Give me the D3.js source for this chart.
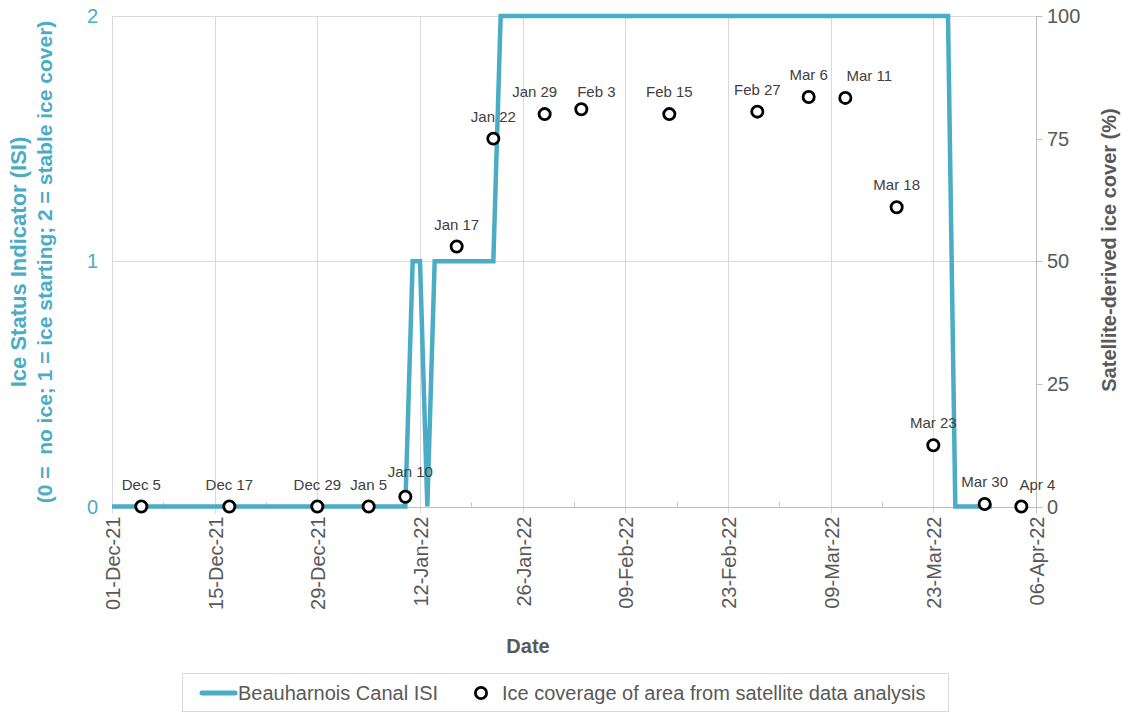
<!DOCTYPE html>
<html>
<head>
<meta charset="utf-8">
<script src="https://cdn.jsdelivr.net/npm/d3@7"></script>
<style>
  html, body { margin: 0; padding: 0; background: #ffffff; }
  svg { display: block; font-family: "Liberation Sans", Arial, sans-serif; }
</style>
</head>
<body>
<svg id="chart" width="1122" height="713"></svg>
<script>
// Beauharnois Canal ice status indicator (vertices of the daily series)
const isiDates  = ["2021-12-01", "2022-01-10", "2022-01-11", "2022-01-12", "2022-01-13",
                   "2022-01-14", "2022-01-22", "2022-01-23", "2022-03-25", "2022-03-26", "2022-03-31"];
const isiValues = [0, 0, 1, 1, 0, 1, 1, 2, 2, 0, 0];

// Satellite-derived ice cover (%) of the area
const satDates  = ["2021-12-05", "2021-12-17", "2021-12-29", "2022-01-05", "2022-01-10",
                   "2022-01-17", "2022-01-22", "2022-01-29", "2022-02-03", "2022-02-15",
                   "2022-02-27", "2022-03-06", "2022-03-11", "2022-03-18", "2022-03-23",
                   "2022-03-30", "2022-04-04"];
const satValues = [0, 0, 0, 0, 2, 53, 75, 80, 81, 80, 80.5, 83.5, 83.3, 61, 12.5, 0.5, 0];
const satLabels = ["Dec 5", "Dec 17", "Dec 29", "Jan 5", "Jan 10", "Jan 17", "Jan 22", "Jan 29",
                   "Feb 3", "Feb 15", "Feb 27", "Mar 6", "Mar 11", "Mar 18", "Mar 23", "Mar 30", "Apr 4"];

// Axis ticks
const isiTicks = [0, 1, 2];
const pctTicks = [0, 25, 50, 75, 100];
const xDomain  = ["2021-12-01", "2022-04-06"];

// Legend entries
const seriesNames = ["Beauharnois Canal ISI", "Ice coverage of area from satellite data analysis"];

// ---------------------------------------------------------------
const BLUE = "#4BACC6", GRID = "#d9d9d9", AXIS = "#bfbfbf", TXT = "#595959", LBL = "#404040";
const parse = d3.utcParse("%Y-%m-%d");
const svg = d3.select("#chart");

const plot = { left: 112, right: 1036, top: 16, bottom: 506.5 };

const x = d3.scaleUtc().domain(xDomain.map(parse)).range([plot.left, plot.right]);
const yIsi = d3.scaleLinear().domain([0, 2]).range([plot.bottom, plot.top]);
const yPct = d3.scaleLinear().domain([0, 100]).range([plot.bottom, plot.top]);

const dayEnd = d3.utcDay.offset(parse(xDomain[1]), 1);
const majorTicks = d3.utcDay.range(parse(xDomain[0]), dayEnd, 14);
const minorTicks = d3.utcDay.range(parse(xDomain[0]), dayEnd, 7)
  .filter(d => !majorTicks.some(m => +m === +d));

// Vertical gridlines (major date ticks, extending below the axis as tick marks)
svg.append("g").selectAll("line").data(majorTicks).join("line")
  .attr("x1", d => Math.round(x(d)) + 0.5).attr("x2", d => Math.round(x(d)) + 0.5)
  .attr("y1", plot.top).attr("y2", plot.bottom + 7)
  .attr("stroke", GRID).attr("stroke-width", 1);

// Horizontal gridlines on ISI ticks
svg.append("g").selectAll("line").data(isiTicks.filter(v => v > 0)).join("line")
  .attr("x1", plot.left).attr("x2", plot.right)
  .attr("y1", d => Math.round(yIsi(d)) + 0.5).attr("y2", d => Math.round(yIsi(d)) + 0.5)
  .attr("stroke", GRID).attr("stroke-width", 1);

// Minor date ticks (inside)
svg.append("g").selectAll("line").data(minorTicks).join("line")
  .attr("x1", d => Math.round(x(d)) + 0.5).attr("x2", d => Math.round(x(d)) + 0.5)
  .attr("y1", plot.bottom - 4).attr("y2", plot.bottom)
  .attr("stroke", AXIS).attr("stroke-width", 1);

// X axis line
svg.append("line")
  .attr("x1", plot.left).attr("x2", plot.right + 1)
  .attr("y1", Math.round(plot.bottom) + 0.5).attr("y2", Math.round(plot.bottom) + 0.5)
  .attr("stroke", AXIS).attr("stroke-width", 1);

// Right axis line + outward ticks
const rx = Math.round(plot.right) + 0.5;
svg.append("line").attr("x1", rx).attr("x2", rx).attr("y1", plot.top).attr("y2", plot.bottom + 7)
  .attr("stroke", AXIS).attr("stroke-width", 1);
svg.append("g").selectAll("line").data(pctTicks).join("line")
  .attr("x1", rx).attr("x2", rx + 6)
  .attr("y1", d => Math.round(yPct(d)) + 0.5).attr("y2", d => Math.round(yPct(d)) + 0.5)
  .attr("stroke", AXIS).attr("stroke-width", 1);

// X tick labels (rotated)
const fmt = d3.utcFormat("%d-%b-%y");
svg.append("g").selectAll("text").data(majorTicks).join("text")
  .attr("transform", d => `translate(${x(d) + 1},${plot.bottom + 10}) rotate(-90)`)
  .attr("text-anchor", "end").attr("dy", "0.35em")
  .attr("font-size", 20).attr("fill", TXT)
  .text(d => fmt(d));

// Left tick labels (ISI)
svg.append("g").selectAll("text").data(isiTicks).join("text")
  .attr("x", 98).attr("y", d => yIsi(d)).attr("dy", "0.35em")
  .attr("text-anchor", "end").attr("font-size", 20).attr("fill", BLUE)
  .text(d => d);

// Right tick labels (%)
svg.append("g").selectAll("text").data(pctTicks).join("text")
  .attr("x", 1047).attr("y", d => yPct(d)).attr("dy", "0.35em")
  .attr("text-anchor", "start").attr("font-size", 20).attr("fill", TXT)
  .text(d => d);

// ISI line
const isiData = isiDates.map((d, i) => ({ date: parse(d), v: isiValues[i] }));
svg.append("path").datum(isiData)
  .attr("fill", "none").attr("stroke", BLUE).attr("stroke-width", 4.5)
  .attr("stroke-linejoin", "miter").attr("stroke-linecap", "butt")
  .attr("d", d3.line().x(d => x(d.date)).y(d => yIsi(d.v)));

// Satellite markers
const satData = satDates.map((d, i) => ({ date: parse(d), v: satValues[i], label: satLabels[i] }));
svg.append("g").selectAll("circle").data(satData).join("circle")
  .attr("cx", d => x(d.date)).attr("cy", d => yPct(d.v)).attr("r", 5.6)
  .attr("fill", "#ffffff").attr("stroke", "#000000").attr("stroke-width", 2.8);

// Marker labels; a few are nudged to avoid overlaps
const labelShift = { "Jan 10": [5, -3], "Jan 29": [-10, 0], "Feb 3": [15, 5], "Mar 11": [24, 0], "Apr 4": [16, 0] };
svg.append("g").selectAll("text").data(satData).join("text")
  .attr("x", d => x(d.date) + (labelShift[d.label] ? labelShift[d.label][0] : 0))
  .attr("y", d => yPct(d.v) - 17 + (labelShift[d.label] ? labelShift[d.label][1] : 0))
  .attr("text-anchor", "middle").attr("font-size", 15).attr("fill", LBL)
  .text(d => d.label);

// Axis titles
const leftTitle = svg.append("text")
  .attr("transform", "translate(0,262) rotate(-90)")
  .attr("text-anchor", "middle").attr("font-weight", "bold").attr("fill", BLUE);
leftTitle.append("tspan").attr("x", 0).attr("y", 26).attr("font-size", 22).text("Ice Status Indicator (ISI)");
leftTitle.append("tspan").attr("x", 0).attr("y", 52).attr("font-size", 21)
  .style("white-space", "pre").text("(0 =  no ice; 1 = ice starting; 2 = stable ice cover)");

svg.append("text")
  .attr("transform", "translate(1116,250) rotate(-90)")
  .attr("text-anchor", "middle").attr("font-size", 20).attr("font-weight", "bold").attr("fill", TXT)
  .text("Satellite-derived ice cover (%)");

svg.append("text")
  .attr("x", 528).attr("y", 653)
  .attr("text-anchor", "middle").attr("font-size", 20).attr("font-weight", "bold").attr("fill", TXT)
  .text("Date");

// Legend
const lg = svg.append("g");
lg.append("rect").attr("x", 182.5).attr("y", 673.5).attr("width", 766).attr("height", 38)
  .attr("fill", "#ffffff").attr("stroke", GRID).attr("stroke-width", 1);
lg.append("line").attr("x1", 202).attr("x2", 235).attr("y1", 693).attr("y2", 693)
  .attr("stroke", BLUE).attr("stroke-width", 5).attr("stroke-linecap", "round");
lg.append("text").attr("x", 238).attr("y", 693).attr("dy", "0.35em")
  .attr("font-size", 20).attr("fill", TXT).text(seriesNames[0]);
lg.append("circle").attr("cx", 481).attr("cy", 693).attr("r", 5.6)
  .attr("fill", "#ffffff").attr("stroke", "#000000").attr("stroke-width", 2.8);
lg.append("text").attr("x", 502).attr("y", 693).attr("dy", "0.35em")
  .attr("font-size", 20).attr("fill", TXT).text(seriesNames[1]);
</script>
</body>
</html>
